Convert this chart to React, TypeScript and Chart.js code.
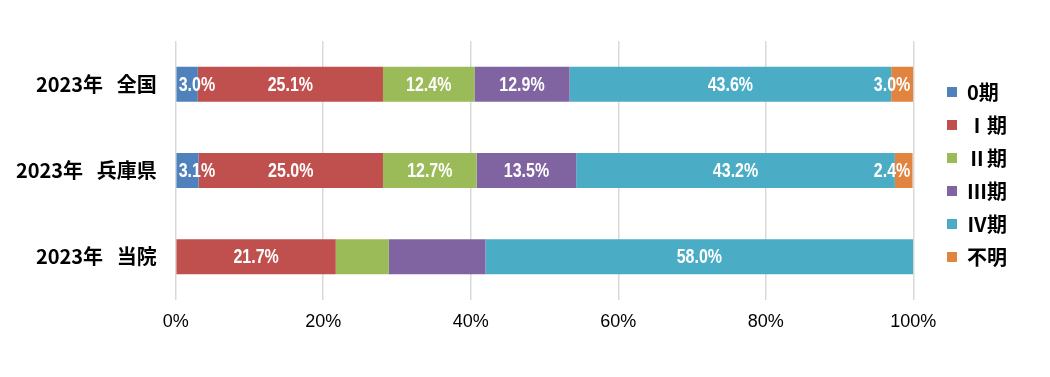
import React, { useEffect, useRef } from "react";
import { Chart, registerables } from "chart.js";

Chart.register(...registerables);

const categories = ["2023年   全国", "2023年   兵庫県", "2023年   当院"];
const stageNames = ["0期", "Ⅰ期", "Ⅱ期", "Ⅲ期", "Ⅳ期", "不明"];
const stage0 = [3.0, 3.1, 0];
const stage1 = [25.1, 25.0, 21.7];
const stage2 = [12.4, 12.7, 7.2];
const stage3 = [12.9, 13.5, 13.1];
const stage4 = [43.6, 43.2, 58.0];
const stageUnknown = [3.0, 2.4, 0];
const showLabel0 = [true, true, false];
const showLabel1 = [true, true, true];
const showLabel2 = [true, true, false];
const showLabel3 = [true, true, false];
const showLabel4 = [true, true, true];
const showLabelUnknown = [true, true, false];
const colors = ["#4F81BD", "#C0504D", "#9BBB59", "#8064A2", "#4BACC6", "#E0843F"];

const seriesValues = [stage0, stage1, stage2, stage3, stage4, stageUnknown];
const seriesShow = [showLabel0, showLabel1, showLabel2, showLabel3, showLabel4, showLabelUnknown];

const NARROW = 0.82;

const labelPlugin = {
  id: "segLabels",
  afterDatasetsDraw(chart: any) {
    const ctx = chart.ctx;
    const area = chart.chartArea;
    ctx.save();
    ctx.font = "bold 19.5px 'Liberation Sans', Arial, sans-serif";
    ctx.fillStyle = "#ffffff";
    ctx.textAlign = "center";
    ctx.textBaseline = "middle";
    chart.data.datasets.forEach((ds: any, di: number) => {
      const meta = chart.getDatasetMeta(di);
      meta.data.forEach((bar: any, i: number) => {
        if (!seriesShow[di][i]) return;
        const v = ds.data[i];
        const text = v.toFixed(1) + "%";
        const w = ctx.measureText(text).width * NARROW;
        let x = (bar.x + bar.base) / 2;
        x = Math.max(area.left + w / 2 + 3, Math.min(area.right - w / 2 - 3, x));
        ctx.save();
        ctx.translate(x, bar.y + 1);
        ctx.scale(NARROW, 1);
        ctx.fillText(text, 0, 0);
        ctx.restore();
      });
    });
    ctx.restore();
  },
};

export default function App() {
  const ref = useRef<HTMLCanvasElement | null>(null);
  useEffect(() => {
    if (!ref.current) return;
    const chart = new Chart(ref.current, {
      type: "bar",
      data: {
        labels: categories,
        datasets: stageNames.map((name, i) => ({
          label: name,
          data: seriesValues[i],
          backgroundColor: colors[i],
          borderWidth: 0,
          xAxisID: "x",
          yAxisID: "y",
          categoryPercentage: 1,
          barPercentage: 0.405,
        })),
      },
      options: {
        indexAxis: "y",
        animation: false,
        responsive: true,
        maintainAspectRatio: false,
        layout: { padding: { top: 33, bottom: 29, left: 0, right: 35 } },
        plugins: {
          tooltip: { enabled: false },
          legend: {
            position: "right",
            fullSize: false,
            maxWidth: 73,
            title: { display: true, text: "", padding: 0, font: { size: 8, lineHeight: 1 } },
            labels: {
              boxWidth: 10,
              boxHeight: 10,
              padding: 13,
              color: "#000",
              font: { family: "'Noto Sans CJK JP'", size: 20, weight: "bold" },
            },
          },
        },
        scales: {
          x: {
            stacked: true,
            min: 0,
            max: 100,
            afterFit: (s: any) => {
              s.height = 40;
            },
            grid: { color: "#d9d9d9", lineWidth: 1.5, drawTicks: false },
            border: { display: false },
            ticks: {
              stepSize: 20,
              padding: 11,
              color: "#000",
              font: { family: "'Liberation Sans Narrow', 'Liberation Sans'", size: 18 },
              callback: (v: any) => v + "%",
            },
          },
          y: {
            stacked: true,
            afterFit: (s: any) => {
              s.width = 167.7;
            },
            grid: { display: false, drawTicks: false },
            border: { display: false },
            ticks: {
              padding: 19,
              color: "#000",
              font: { family: "'Noto Sans CJK JP'", size: 20, weight: "bold" },
            },
          },
          y2: {
            type: "linear",
            position: "right",
            display: true,
            grid: { display: false, drawTicks: false },
            border: { display: false },
            ticks: { display: false },
            afterFit: (s: any) => {
              s.width = 20.7;
            },
          },
        },
      },
      plugins: [labelPlugin],
    } as any);
    return () => chart.destroy();
  }, []);
  return (
    <div style={{ width: 1034, height: 361, position: "relative" }}>
      <canvas ref={ref} />
    </div>
  );
}
